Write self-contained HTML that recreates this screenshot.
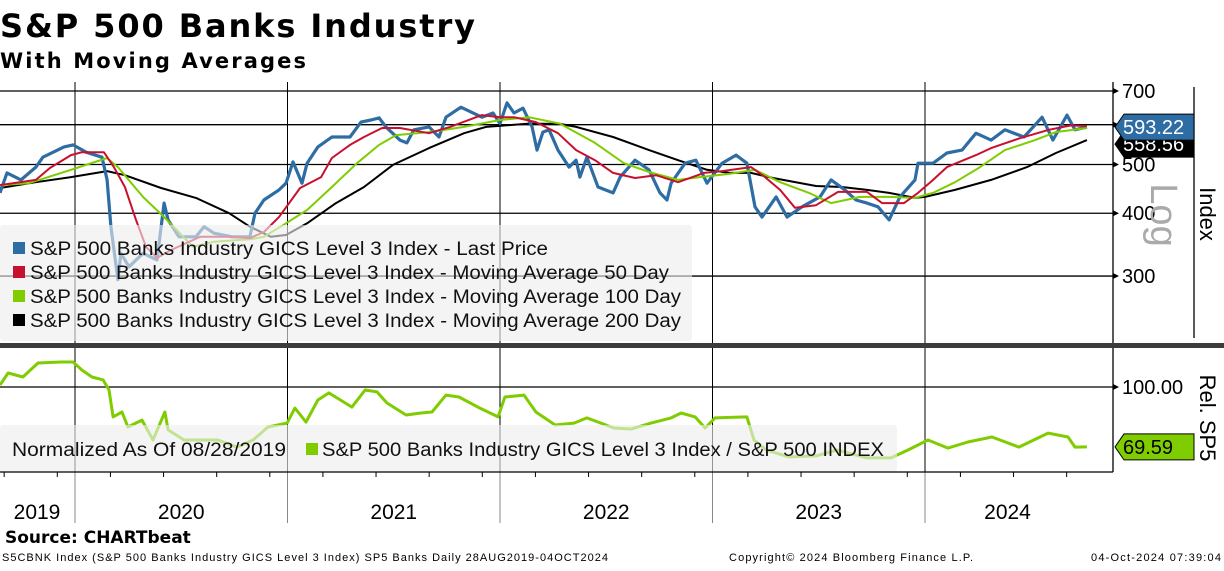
<!DOCTYPE html>
<html><head><meta charset="utf-8">
<style>
html,body{margin:0;padding:0;background:#fff;}
body{width:1224px;height:566px;overflow:hidden;font-family:"Liberation Sans",sans-serif;}
svg text{font-family:"Liberation Sans","DejaVu Sans",sans-serif;}
</style></head>
<body>
<svg id="chart" width="1224" height="566" viewBox="0 0 1224 566" xmlns="http://www.w3.org/2000/svg">
<text x="0" y="37" font-weight="bold" font-size="32" textLength="475" style="font-family:'DejaVu Sans',sans-serif">S&amp;P 500 Banks Industry</text>
<text x="0" y="68" font-weight="bold" font-size="21" textLength="306" style="font-family:'DejaVu Sans',sans-serif">With Moving Averages</text>
<g id="grid"></g>
<g id="series"></g>
<g id="legends"></g>
<g id="axes"></g>
<text x="5" y="543" font-weight="bold" font-size="17" style="font-family:'DejaVu Sans',sans-serif">Source: CHARTbeat</text>
<text x="2" y="561" font-size="11" textLength="606">S5CBNK Index (S&amp;P 500 Banks Industry GICS Level 3 Index) SP5 Banks  Daily 28AUG2019-04OCT2024</text>
<text x="729" y="561" font-size="11" textLength="244">Copyright© 2024 Bloomberg Finance L.P.</text>
<text x="1091" y="561" font-size="11" textLength="130">04-Oct-2024 07:39:04</text>
</svg>
<script>
// time in years since 28-Aug-2019
const priceT = [0,.033,.099,.169,.202,.301,.344,.405,.48,.504,.522,.555,.569,.607,.673,.739,.772,.791,.842,.922,.96,1.007,1.092,1.176,1.2,1.242,1.313,1.346,1.379,1.421,1.445,1.496,1.562,1.647,1.699,1.746,1.784,1.816,1.882,1.915,1.948,2.019,2.066,2.099,2.169,2.216,2.268,2.32,2.353,2.386,2.419,2.461,2.504,2.527,2.555,2.584,2.626,2.678,2.711,2.729,2.762,2.814,2.885,2.918,2.988,3.054,3.106,3.139,3.158,3.224,3.275,3.327,3.398,3.464,3.515,3.553,3.586,3.652,3.704,3.774,3.859,3.911,3.976,4.028,4.08,4.132,4.184,4.235,4.306,4.32,4.391,4.456,4.527,4.593,4.664,4.729,4.819,4.904,4.955,5.021,5.059,5.115];
const priceV = [439,481,466,494,517,542,547,529,517,466,376,295,333,313,333,323,419,388,359,359,376,365,359,359,400,425,445,459,506,459,503,542,567,567,607,613,619,594,559,552,586,594,567,621,650,636,621,633,603,663,633,647,594,534,580,586,534,494,510,472,517,451,439,472,510,488,439,425,459,503,510,459,503,522,503,412,393,431,393,412,431,466,445,425,419,412,388,431,466,503,503,527,534,577,559,586,567,621,559,627,586,593.22];
const ma50T = [0,.169,.235,.334,.386,.489,.536,.588,.64,.687,.739,.805,.941,1.078,1.176,1.242,1.313,1.412,1.511,1.562,1.647,1.713,1.798,1.882,2.019,2.118,2.268,2.353,2.419,2.522,2.626,2.711,2.8,2.885,2.988,3.087,3.191,3.313,3.398,3.534,3.6,3.671,3.741,3.84,3.944,4.08,4.151,4.254,4.32,4.391,4.456,4.593,4.664,4.8,4.936,5.04,5.115];
const ma50V = [455,466,492,522,529,529,494,451,388,343,326,338,359,359,357,367,393,449,472,515,547,567,591,591,577,594,627,621,621,607,577,534,510,481,470,476,461,481,485,494,472,445,410,415,441,441,419,419,439,466,494,522,539,564,586,598,596];
const ma100T = [0,.136,.334,.504,.555,.673,.772,.908,1.007,1.176,1.242,1.346,1.445,1.562,1.68,1.784,1.864,2.019,2.184,2.353,2.489,2.635,2.8,2.936,3.054,3.191,3.294,3.431,3.553,3.671,3.807,3.911,4.047,4.184,4.306,4.391,4.494,4.612,4.729,4.871,4.969,5.115];
const ma100V = [455,459,488,515,494,431,393,343,351,355,359,382,406,451,503,547,572,580,594,613,621,603,552,503,483,466,472,479,488,461,439,419,431,431,429,439,461,494,534,559,580,591];
const ma200T = [0,.169,.334,.504,.588,.758,.922,1.078,1.176,1.275,1.346,1.445,1.581,1.713,1.849,2.019,2.184,2.287,2.489,2.635,2.711,2.885,3.054,3.191,3.327,3.431,3.534,3.638,3.84,3.962,4.08,4.184,4.306,4.353,4.494,4.664,4.833,4.969,5.115];
const ma200V = [449,461,472,485,476,449,429,400,376,359,362,382,419,451,499,539,577,594,603,602,594,567,534,510,488,481,481,470,453,451,445,439,429,431,445,466,494,527,559];
const relT = [0,.038,.108,.179,.287,.344,.386,.433,.485,.513,.532,.574,.602,.668,.72,.776,.791,.866,.955,1.026,1.115,1.191,1.261,1.351,1.388,1.44,1.496,1.548,1.656,1.718,1.774,1.821,1.911,1.981,2.033,2.099,2.16,2.249,2.344,2.376,2.466,2.522,2.612,2.701,2.762,2.889,2.969,3.064,3.158,3.205,3.271,3.318,3.365,3.515,3.548,3.605,3.713,3.84,3.939,4.08,4.193,4.273,4.367,4.461,4.555,4.668,4.795,4.932,5.026,5.059,5.115];
const relV = [101.0,107.1,105.1,112.2,112.7,112.7,108.6,105.1,103.6,98.5,84.8,87.3,79.7,83.2,73.1,87.3,78.2,73.1,73.1,73.1,69.5,73.1,79.7,81.7,89.3,82.2,93.4,97.0,89.8,98.5,97.5,91.9,85.8,86.8,87.3,95.9,94.9,89.8,84.8,94.9,95.9,87.3,80.7,81.7,84.3,79.2,78.7,81.7,84.3,86.8,84.8,79.2,84.3,84.8,73.1,68.0,64.5,65.0,68.0,64.0,64.0,68.0,73.1,69.0,72.1,74.6,69.5,76.6,74.6,69.5,69.59];
const priceTicks = [700,600,500,400,300];
const priceTickLabels = ["700","","500","400","300"];
const relTicks = [100];
const relTickLabels = ["100.00"];
const yearLabels = ["2019","2020","2021","2022","2023","2024"];
const yearStarts = [-0.353,0,1,2,3,4,5];
const legendTop = ["S&P 500 Banks Industry GICS Level 3 Index - Last Price","S&P 500 Banks Industry GICS Level 3 Index - Moving Average 50 Day","S&P 500 Banks Industry GICS Level 3 Index - Moving Average 100 Day","S&P 500 Banks Industry GICS Level 3 Index - Moving Average 200 Day"];
const legendWidths = [518,639,651,651];

const NS="http://www.w3.org/2000/svg";
const PX_PER_YEAR=212.5, X0=0, PLOT_R=1113;
const xOf = t => X0 + t*PX_PER_YEAR;
const xYear = y => 75 + y*PX_PER_YEAR;
const yPrice = v => 91 + 218.4*Math.log(700/v);
const yRel = v => 387 + (100-v)*1.97;
function mk(tag, attrs, parent){const e=document.createElementNS(NS,tag);for(const k in attrs)e.setAttribute(k,attrs[k]);parent.appendChild(e);return e;}
const grid=document.getElementById('grid'), series=document.getElementById('series'), legends=document.getElementById('legends'), axes=document.getElementById('axes');

for(let i=1;i<yearStarts.length-1;i++){
  const x=xYear(yearStarts[i]);
  let l=mk('line',{x1:x,x2:x,y1:82,y2:472,stroke:'#000','stroke-width':1},grid);
  
  
  let l2=mk('line',{x1:x,x2:x,y1:472,y2:523,stroke:'#888','stroke-width':1},grid);
  
  
}
priceTicks.forEach((v,i)=>{
  const y=yPrice(v);
  let l=mk('line',{x1:0,x2:PLOT_R,y1:y,y2:y,stroke:'#000','stroke-width':1.3},grid);
  
  
  let p=mk('path',{d:`M${PLOT_R} ${y-3}L${PLOT_R+6} ${y}L${PLOT_R} ${y+3}Z`,fill:'#000'},axes);
  
  
  if(priceTickLabels[i]){
    let t=mk('text',{x:1122,y:y+7,'font-size':20},axes);t.textContent=priceTickLabels[i];
    
    
  }
});
relTicks.forEach((v,i)=>{
  const y=yRel(v);
  let l=mk('line',{x1:0,x2:PLOT_R,y1:y,y2:y,stroke:'#000','stroke-width':1.3},grid);
  
  
  let p=mk('path',{d:`M${PLOT_R} ${y-3}L${PLOT_R+6} ${y}L${PLOT_R} ${y+3}Z`,fill:'#000'},axes);
  
  
  let t=mk('text',{x:1122,y:y+7,'font-size':20},axes);t.textContent=relTickLabels[i];
  
  
});
for(let m=-4;m<=60;m+=3){
  const x=xYear(m/12); if(x<0||x>PLOT_R) continue;
  let l=mk('line',{x1:x,x2:x,y1:472,y2:477,stroke:'#000'},grid);
  
  
}
function line(T,V,yf,color,w,name){
  const d=T.map((t,i)=>(i?'L':'M')+xOf(t).toFixed(1)+' '+yf(V[i]).toFixed(1)).join('');
  const p=mk('path',{d:d,fill:'none',stroke:color,'stroke-width':w,'stroke-linejoin':'round'},series);
  
  
}
line(ma200T,ma200V,yPrice,'#000',2,'ma200-line');
line(priceT,priceV,yPrice,'#2e6da4',3.2,'price-line');
line(ma100T,ma100V,yPrice,'#7fcc00',2,'ma100-line');
line(ma50T,ma50V,yPrice,'#c8102e',2,'ma50-line');
line(relT,relV,yRel,'#7fcc00',3,'relative-line');

let lb=mk('rect',{x:0,y:225,width:692,height:116,rx:3,fill:'rgba(238,238,238,0.62)'},legends);


const legColors=['#2e6da4','#c8102e','#7fcc00','#000'];
legendTop.forEach((s,i)=>{
  const y=249+i*24;
  let r=mk('rect',{x:13,y:y-7,width:12,height:12,fill:legColors[i]},legends);
  
  
  let t=mk('text',{x:30,y:y+6,'font-size':19,fill:'#111',textLength:legendWidths[i],lengthAdjust:'spacingAndGlyphs'},legends);t.textContent=s;
  
  
});
let lb2=mk('rect',{x:0,y:425,width:897,height:47,rx:3,fill:'rgba(238,238,238,0.62)'},legends);


let n1=mk('text',{x:12,y:456,'font-size':19,fill:'#111',textLength:274,lengthAdjust:'spacingAndGlyphs'},legends);n1.textContent='Normalized As Of 08/28/2019';


let r2=mk('rect',{x:306,y:443,width:12,height:12,fill:'#7fcc00'},legends);


let n2=mk('text',{x:322,y:456,'font-size':19,fill:'#111',textLength:562,lengthAdjust:'spacingAndGlyphs'},legends);n2.textContent='S&P 500 Banks Industry GICS Level 3 Index / S&P 500 INDEX';



[[PLOT_R,82,PLOT_R,343],[PLOT_R,348,PLOT_R,472],[0,472,PLOT_R,472],[1194,87,1194,338]].forEach(a=>{
  let l=mk('line',{x1:a[0],y1:a[1],x2:a[2],y2:a[3],stroke:'#000','stroke-width':1.3},axes);
  
  
});
let sep=mk('rect',{x:0,y:343,width:1224,height:5,fill:'#3c3c3c'},axes);


yearLabels.forEach((s,i)=>{
  const a=Math.max(0,xYear(yearStarts[i])), b=Math.min(1090,xYear(yearStarts[i+1]));
  let t=mk('text',{x:(i==0?37:(a+b)/2),y:519,'font-size':21,'text-anchor':'middle'},axes);t.textContent=s;
  
  
});
function rot(txt,x,y,size,fill,name){
  let t=mk('text',{x:0,y:0,'font-size':size,fill:fill,'text-anchor':'middle',transform:`translate(${x},${y}) rotate(90)`},axes);t.textContent=txt;
  
  
}
rot('Index',1200,214,22,'#000','price-axis-title');
rot('Log',1151,215,38,'#aaa','log-scale-label');
rot('Rel. SP5',1200,418,22,'#000','relative-axis-title');
function tag(y,val,bg,fg,name){
  let p=mk('path',{d:`M1115 ${y}L1124 ${y-13}L1194 ${y-13}L1194 ${y+13}L1124 ${y+13}Z`,fill:bg,stroke:'#000','stroke-width':1},axes);
  
  
  let t=mk('text',{x:1123,y:y+7,'font-size':20,fill:fg},axes);t.textContent=val;
  
  
}
tag(yPrice(ma200V[ma200V.length-1])+4,'558.56','#000','#fff','ma200-value-tag');
tag(yPrice(priceV[priceV.length-1]),priceV[priceV.length-1].toFixed(2),'#2e6da4','#fff','price-value-tag');
tag(yRel(relV[relV.length-1]),relV[relV.length-1].toFixed(2),'#7fcc00','#000','relative-value-tag');
</script>
</body></html>
